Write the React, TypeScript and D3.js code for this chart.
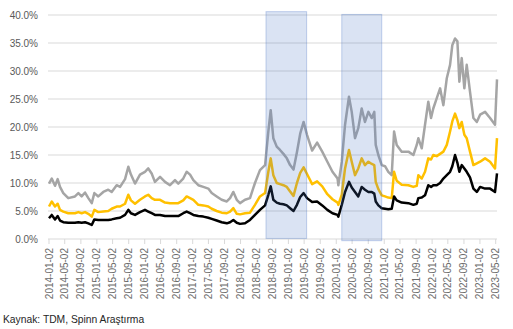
import React from "react";
import * as d3 from "d3";

const dates = [
  "2014-01-02","2014-01-23","2014-02-17","2014-03-09","2014-03-27","2014-04-21","2014-05-29","2014-07-19","2014-08-14","2014-09-08",
  "2014-10-04","2014-10-29","2014-11-24","2014-12-14","2015-01-13","2015-02-20","2015-03-30","2015-04-25","2015-06-02","2015-06-28",
  "2015-08-05","2015-08-30","2015-09-19","2015-10-20","2015-11-27","2016-01-04","2016-01-29","2016-02-24","2016-03-20","2016-04-28",
  "2016-06-05","2016-07-13","2016-08-20","2016-09-14","2016-10-22","2016-11-17","2016-12-13","2017-01-07","2017-02-14","2017-03-24",
  "2017-05-01","2017-05-27","2017-07-04","2017-08-11","2017-09-19","2017-10-14","2017-11-08","2017-12-04","2017-12-29","2018-02-05",
  "2018-03-15","2018-04-22","2018-05-30","2018-07-08","2018-08-02","2018-08-20","2018-09-09","2018-10-05","2018-10-30","2018-11-25",
  "2018-12-21","2019-01-15","2019-02-10","2019-03-08","2019-04-02","2019-04-28","2019-05-24","2019-07-02","2019-08-09","2019-09-17",
  "2019-10-26","2019-12-04","2020-01-12","2020-01-18","2020-02-13","2020-03-09","2020-04-08","2020-04-29","2020-05-24","2020-06-18",
  "2020-07-14","2020-08-08","2020-09-03","2020-09-29","2020-10-18","2020-10-29","2020-11-18","2020-12-14","2021-01-08","2021-02-02",
  "2021-02-28","2021-03-18","2021-04-07","2021-05-15","2021-07-05","2021-08-12","2021-09-07","2021-09-19","2021-10-15","2021-11-09",
  "2021-12-04","2021-12-25","2022-01-11","2022-02-06","2022-03-04","2022-03-29","2022-04-24","2022-05-19","2022-06-05","2022-06-26",
  "2022-07-14","2022-07-29","2022-08-16","2022-09-05","2022-09-23","2022-10-18","2022-11-13","2022-12-09","2023-01-03","2023-02-10",
  "2023-03-20","2023-04-27","2023-05-12",
];

const grayValues = [
  9.9,10.8,9.5,10.7,9.3,8.2,7.3,7.6,8.2,7.6,
  8.3,7.3,6.4,8.2,7.6,8.4,8.8,8.4,9.6,9.3,
  10.7,12.9,11.5,9.9,11.5,12.0,12.6,11.7,10.2,11.1,
  10.2,9.6,10.5,9.9,10.8,12.0,11.5,10.5,9.6,9.3,
  9.0,8.2,7.6,7.0,6.7,7.3,8.4,7.0,6.4,7.0,
  7.3,10.0,12.3,13.2,19.2,23.0,18.0,16.5,15.9,15.2,
  14.4,13.2,12.4,15.5,18.8,20.9,18.6,15.8,17.2,15.6,
  13.8,12.0,10.8,9.6,13.8,20.4,25.4,22.7,18.0,19.8,
  23.3,20.9,22.7,21.6,22.7,16.8,15.0,13.2,13.0,12.0,
  11.4,19.2,16.8,15.6,15.6,15.0,16.8,18.0,16.2,20.4,
  24.5,21.6,23.3,25.1,26.9,23.9,28.7,31.1,34.6,35.8,
  35.3,28.1,32.3,26.9,31.1,26.3,21.6,20.9,22.2,22.7,
  21.6,20.4,28.5,
];

const goldValues = [
  5.8,6.7,5.8,6.3,5.2,4.9,4.6,4.6,4.8,4.6,
  4.8,4.5,4.0,5.2,4.8,4.9,5.0,5.4,5.8,5.8,
  6.3,7.9,6.9,6.3,7.0,7.6,7.9,7.3,7.0,7.0,
  6.5,6.4,6.4,6.4,6.9,7.6,7.3,7.0,6.1,6.0,
  5.8,5.4,5.0,4.7,4.6,4.9,5.5,4.5,4.4,4.6,
  4.7,6.1,7.6,8.2,12.0,14.4,11.4,10.0,9.8,9.6,
  9.3,8.5,7.7,10.0,11.8,12.8,11.6,9.8,10.3,9.4,
  8.0,7.1,6.5,6.1,7.9,12.6,15.9,13.8,11.4,12.6,
  14.4,13.2,13.8,13.4,13.2,10.2,8.9,7.8,7.6,7.4,
  7.3,12.0,10.4,9.7,9.6,9.3,9.5,11.4,10.8,12.0,
  14.4,14.2,15.0,14.8,15.2,15.6,16.8,19.2,21.0,22.4,
  21.2,19.8,20.9,18.6,18.0,15.6,13.2,13.5,13.8,14.4,
  13.8,12.6,18.0,
];

const blackValues = [
  3.7,4.3,3.5,4.1,3.3,3.0,2.9,2.9,3.0,2.9,
  3.0,2.8,2.5,3.5,3.4,3.4,3.4,3.5,3.7,3.8,
  4.3,5.2,4.6,4.3,4.8,5.2,4.9,4.6,4.3,4.3,
  4.1,4.1,4.1,4.1,4.6,4.9,4.6,4.3,4.1,4.0,
  3.8,3.6,3.3,3.0,2.8,3.0,3.4,2.9,2.7,2.8,
  3.4,4.3,5.2,6.0,7.9,9.4,7.0,6.5,6.3,6.2,
  6.0,5.5,5.0,6.1,7.5,8.2,7.3,6.6,6.7,6.0,
  5.2,4.6,4.3,4.0,6.1,8.4,10.2,9.2,8.4,7.6,
  9.3,8.8,8.4,8.4,8.1,6.7,6.0,5.5,5.4,5.3,
  5.4,7.6,6.9,6.5,6.4,6.1,6.3,7.3,7.4,7.8,
  9.6,9.3,9.6,9.6,10.0,10.8,11.4,12.0,13.0,15.0,
  13.6,12.0,13.2,12.6,12.0,11.0,9.0,8.4,9.3,9.0,
  9.0,8.4,11.7,
];

const seriesColors = ["#A5A5A5", "#FFC000", "#000000"];
const yTicks = [0, 5, 10, 15, 20, 25, 30, 35, 40];

const periodStarts = ["2018-07-15", "2020-02-13"];
const periodEnds = ["2019-05-21", "2020-12-14"];
const periodTops = [40.6, 40.1];
const periodBottoms = [0.1, -0.3];

const sourceText = "Kaynak: TDM, Spinn Araştırma";

const W = 513;
const H = 329;

export default function App() {
  const parse = d3.timeParse("%Y-%m-%d");
  const fmt = d3.timeFormat("%Y-%m-%d");
  const parsedDates = dates.map((d) => parse(d) as Date);
  const start = parse("2014-01-02") as Date;
  const end = parse("2023-05-12") as Date;

  const x = d3.scaleTime().domain([start, end]).range([49, 497]);
  const y = d3.scaleLinear().domain([0, 40]).range([239, 15]);

  const xTicks = d3.timeMonth.every(4)!.range(start, end).map((d) => {
    const t = new Date(d);
    t.setDate(2);
    return t;
  });
  const ticks = [start, ...xTicks.filter((t) => t > start && t <= end)];
  const uniq: Date[] = [];
  ticks.forEach((t) => {
    if (!uniq.some((u) => fmt(u) === fmt(t))) uniq.push(t);
  });

  const allSeries = [grayValues, goldValues, blackValues];
  const line = d3
    .line<number>()
    .x((_, i) => x(parsedDates[i]))
    .y((v) => y(v))
    .curve(d3.curveLinear);

  const font = "'Liberation Sans', Arial, sans-serif";

  return (
    <svg
      width={W}
      height={H}
      style={{ position: "absolute", left: 0, top: 0, background: "#fff" }}
      fontFamily={font}
    >
      <rect x={0} y={0} width={W} height={H} fill="#fff" />
      {yTicks.map((t) => (
        <g key={t}>
          {t > 0 && (
            <line x1={48} x2={497} y1={y(t)} y2={y(t)} stroke="#D9D9D9" strokeWidth={1} />
          )}
          <text
            x={38}
            y={y(t)}
            dy="0.35em"
            textAnchor="end"
            fontSize={10}
            fill="#595959"
          >
            {t.toFixed(1) + "%"}
          </text>
        </g>
      ))}
      <line x1={48} x2={497} y1={y(0)} y2={y(0)} stroke="#D9D9D9" strokeWidth={1} />
      {uniq.map((t) => (
        <g key={fmt(t)} transform={`translate(${x(t)},0)`}>
          <line x1={0} x2={0} y1={y(0)} y2={y(0) + 5} stroke="#D9D9D9" />
          <text
            transform={`translate(0,248) rotate(-90)`}
            dy="0.35em"
            textAnchor="end"
            fontSize={10}
            fill="#6b6b6b"
          >
            {fmt(t)}
          </text>
        </g>
      ))}
      {allSeries.map((vals, i) => (
        <path
          key={i}
          d={line(vals) || ""}
          fill="none"
          stroke={seriesColors[i]}
          strokeWidth={2.5}
          strokeLinejoin="round"
        />
      ))}
      {periodStarts.map((s, i) => {
        const x0 = x(parse(s) as Date);
        const x1 = x(parse(periodEnds[i]) as Date);
        const y0 = y(periodTops[i]);
        const y1 = y(periodBottoms[i]);
        return (
          <rect
            key={s}
            x={x0}
            y={y0}
            width={x1 - x0}
            height={y1 - y0}
            fill="#4472C4"
            fillOpacity={0.2}
            stroke="#4472C4"
            strokeOpacity={0.3}
            strokeWidth={1}
          />
        );
      })}
      <text x={3} y={323} fontSize={10.3} fill="#262626">
        {sourceText}
      </text>
    </svg>
  );
}
